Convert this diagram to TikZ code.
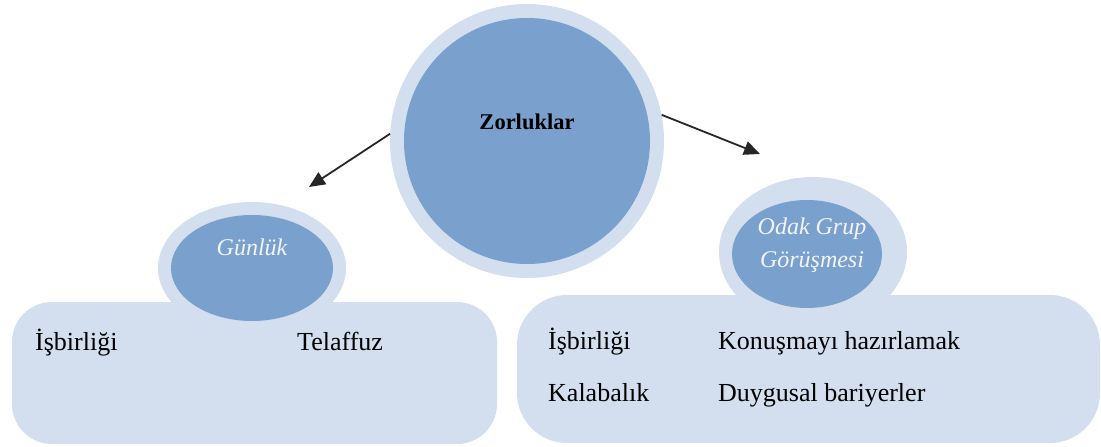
\documentclass[tikz,border=0pt]{standalone}
\usepackage{fontspec}
\setmainfont{Liberation Serif}
\usetikzlibrary{shapes.geometric,arrows.meta}
\definecolor{paleblue}{HTML}{D3DFEE}
\definecolor{midblue}{HTML}{7AA0CD}
\definecolor{labelwhite}{HTML}{F2F4F8}
\definecolor{arrowgray}{HTML}{262626}
\tikzset{
  ring/.style={fill=paleblue, draw=none, inner sep=0pt},
  core/.style={fill=midblue, draw=none, inner sep=0pt},
  panel/.style={fill=paleblue, draw=none, inner sep=0pt, rectangle},
  item/.style={anchor=base west, inner sep=0pt, font=\fontsize{26}{30}\selectfont, text=black},
  method/.style={anchor=base, inner sep=0pt, align=center, text=labelwhite,
    font=\fontsize{24}{33}\selectfont\itshape},
  link/.style={draw=arrowgray, line width=1.8pt,
    -{Triangle[length=16pt,width=14pt]}}
}
\begin{document}
\begin{tikzpicture}[x=1pt,y=-1pt]
\useasboundingbox (0,0) rectangle (1101,447);

% central circle
\node[ring, circle, minimum size=274pt] (zorout) at (527,141) {};
\node[core, circle, minimum size=246pt] (zor) at (527,141) {};
\node[anchor=base, inner sep=0pt, font=\fontsize{22.5}{26}\selectfont\bfseries] (zortxt) at (527,129) {Zorluklar};

% outer rings of the two method ellipses
\node[ring, ellipse, minimum width=188pt, minimum height=132pt] (gunout) at (252,268) {};
\node[ring, ellipse, minimum width=188pt, minimum height=150pt] (odakout) at (813,252) {};

% panels
\node[panel, rounded corners=40pt, minimum width=485pt, minimum height=142pt] (lbox) at (254.5,373) {};
\node[panel, rounded corners=50pt, minimum width=583pt, minimum height=148pt] (rbox) at (808.5,369) {};

% inner ellipses
\node[core, ellipse, minimum width=162pt, minimum height=106pt] (gun) at (252,268) {};
\node[core, ellipse, minimum width=150pt, minimum height=108pt] (odak) at (807,254) {};

\node[method] (guntxt) at (252,255) {Günlük};
\node[method] (odaktxt) at (812,267) {Odak Grup\\Görüşmesi};

% items
\node[item] (l1) at (35,350) {İşbirliği};
\node[item] (l2) at (297,350) {Telaffuz};
\node[item] (r1) at (548,349) {İşbirliği};
\node[item] (r2) at (718,349) {Konuşmayı hazırlamak};
\node[item] (r3) at (548,401) {Kalabalık};
\node[item] (r4) at (718,401) {Duygusal bariyerler};

% arrows
\coordinate (ltip) at (309,187);
\coordinate (rtip) at (760,154);
\draw[link] (zorout.177) -- (ltip);
\draw[link] (zorout.11) -- (rtip);
\end{tikzpicture}
\end{document}
